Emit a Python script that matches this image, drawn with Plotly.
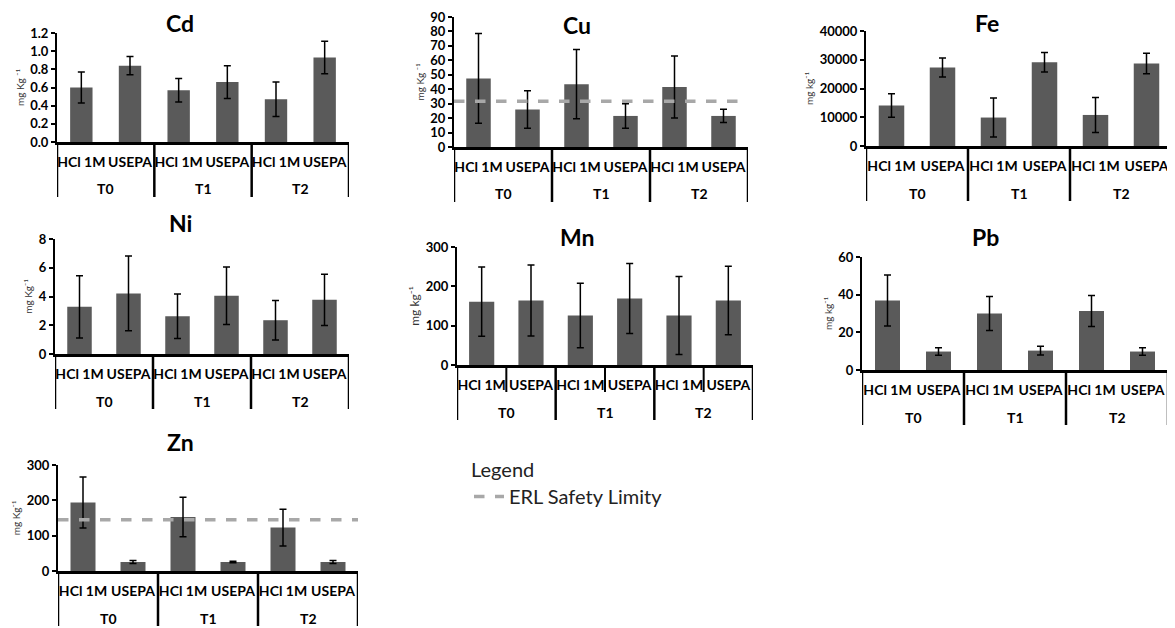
import plotly.graph_objects as go

# the page adds an 8 px body margin, so the figure is drawn 8 px smaller and shifted
OFF = 8
W, H = 1175 - OFF, 628 - OFF


def px_x(v):
    return (v - OFF) / W


def px_y(v):
    return 1 - (v - OFF) / H


groups = ["T0", "T1", "T2"]
methods = ["HCl 1M", "USEPA"]

cd_mean = [0.60, 0.84, 0.57, 0.66, 0.47, 0.93]
cd_err = [0.17, 0.10, 0.13, 0.18, 0.19, 0.18]
cu_mean = [47.5, 26.0, 43.5, 21.5, 41.5, 21.5]
cu_err = [31.0, 13.0, 24.0, 8.5, 21.5, 4.6]
fe_mean = [14100, 27300, 9900, 29100, 10800, 28700]
fe_err = [4100, 3300, 6800, 3400, 6100, 3600]
ni_mean = [3.28, 4.21, 2.62, 4.05, 2.35, 3.77]
ni_err = [2.17, 2.60, 1.55, 2.00, 1.38, 1.78]
mn_mean = [161, 164, 126, 169, 126, 164]
mn_err = [88, 90, 82, 89, 99, 87]
pb_mean = [36.9, 9.8, 30.0, 10.3, 31.3, 9.8]
pb_err = [13.5, 2.0, 9.0, 2.3, 8.2, 2.0]
zn_mean = [194, 25.5, 153, 25.5, 123, 25.5]
zn_err = [72, 4.5, 56, 2.0, 52, 4.0]

erl_cu = 31.6
erl_zn = 145

FONT = "Lato"

# panel: name, means, errs, y range, dtick, tickformat, ytitle, pixel box (x0,x1,ytop,yzero), title pos, bar width, erl, inner dividers
panels = [
    ("Cd", cd_mean, cd_err, [0, 1.2], 0.2, ".1f", "mg Kg ⁻¹", (57, 349, 33, 142), (180, 23), 0.46, None, False),
    ("Cu", cu_mean, cu_err, [0, 90], 10, "d", "mg Kg ⁻¹", (454, 748, 17, 147), (577, 25), 0.5, erl_cu, False),
    ("Fe", fe_mean, fe_err, [0, 40000], 10000, "d", "mg kg⁻¹", (866, 1172, 31, 146), (987, 23), 0.5, None, False),
    ("Ni", ni_mean, ni_err, [0, 8], 2, "d", "mg Kg⁻¹", (55, 349, 239, 354), (180, 223), 0.5, None, False),
    ("Mn", mn_mean, mn_err, [0, 300], 100, "d", "mg kg⁻¹", (457, 753, 247, 365), (577, 237), 0.51, None, True),
    ("Pb", pb_mean, pb_err, [0, 60], 20, "d", "mg kg⁻¹", (862, 1168, 257, 370), (985, 237), 0.49, None, False),
    ("Zn", zn_mean, zn_err, [0, 300], 100, "d", "mg Kg⁻¹", (58, 358, 465, 571), (180, 442), 0.5, erl_zn, False),
]

fig = go.Figure()
layout = dict(
    width=W, height=H,
    template="none",
    margin=dict(l=0, r=0, t=0, b=0, pad=0),
    paper_bgcolor="white", plot_bgcolor="white",
    font=dict(family=FONT, color="black"),
    showlegend=True,
    legend=dict(
        x=px_x(469), y=px_y(451), xanchor="left", yanchor="top",
        title=dict(text="Legend", font=dict(family=FONT, size=20, color="#222")),
        font=dict(family=FONT, size=20, color="#222"),
        bgcolor="rgba(0,0,0,0)", tracegroupgap=0, itemwidth=30,
    ),
)
shapes = []
annotations = []

cats = [m for g in groups for m in methods]
xpos = list(range(len(cats)))

for i, (name, mean, err, yr, dt, fmt, ytitle, box, tpos, bw, erl, inner) in enumerate(panels, start=1):
    xa = "x" if i == 1 else f"x{i}"
    ya = "y" if i == 1 else f"y{i}"
    x0, x1, ytop, yzero = box
    ph = yzero - ytop
    fig.add_trace(go.Bar(
        x=xpos, y=mean, width=bw,
        marker=dict(color="#5a5a5a", line=dict(width=0)),
        error_y=dict(type="data", array=err, color="black", thickness=1.5, width=3.5),
        xaxis=xa, yaxis=ya, showlegend=False, hoverinfo="skip",
    ))
    layout["xaxis" if i == 1 else f"xaxis{i}"] = dict(
        domain=[px_x(x0), px_x(x1)], anchor=ya, automargin=False,
        range=[-0.5, len(cats) - 0.5],
        tickvals=xpos, ticktext=cats,
        ticks="", showline=True, linecolor="black", linewidth=2.5,
        showgrid=False, zeroline=False,
        tickfont=dict(family=FONT, size=14, weight="bold", color="black"),
        ticklabelstandoff=5, fixedrange=True,
    )
    layout["yaxis" if i == 1 else f"yaxis{i}"] = dict(
        domain=[px_y(yzero), px_y(ytop)], anchor=xa, automargin=False,
        range=yr, dtick=dt, tickformat=fmt,
        ticks="outside", ticklen=4, tickcolor="black", tickwidth=1.5,
        showline=True, linecolor="black", linewidth=2,
        showgrid=False, zeroline=False,
        tickfont=dict(family=FONT, size=13, weight="bold", color="black"),
        title=dict(text=ytitle, font=dict(family=FONT, size=10 if name != "Mn" else 12, color="#333"), standoff=4),
        fixedrange=True,
    )
    dref = f"{ya} domain"
    depth = -55 / ph
    n_per = len(methods)
    for k in range(len(groups) + 1):
        xb = k * n_per - 0.5
        shapes.append(dict(type="line", xref=xa, yref=dref, x0=xb, x1=xb, y0=0, y1=depth,
                           line=dict(color="black", width=2.5)))
    if inner:
        for k in range(len(groups)):
            xb = k * n_per + 0.5
            shapes.append(dict(type="line", xref=xa, yref=dref, x0=xb, x1=xb, y0=0, y1=-27 / ph,
                               line=dict(color="black", width=2)))
    for k, g in enumerate(groups):
        annotations.append(dict(
            text=g, xref=xa, yref=dref, x=k * n_per + (n_per - 1) / 2, y=-47 / ph,
            showarrow=False, xanchor="center", yanchor="middle",
            font=dict(family=FONT, size=14, weight="bold", color="black"),
        ))
    annotations.append(dict(
        text=name, xref="paper", yref="paper", x=px_x(tpos[0]), y=px_y(tpos[1]),
        showarrow=False, xanchor="center", yanchor="middle",
        font=dict(family=FONT, size=23, weight="bold", color="black"),
    ))
    if erl is not None:
        shapes.append(dict(
            type="line", xref=f"{xa} domain", yref=ya, x0=0, x1=1, y0=erl, y1=erl,
            line=dict(color="#a8a8a8", width=3.5, dash="dash"),
            showlegend=(name == "Cu"), name="ERL Safety Limity", legendgroup="erl",
        ))

layout["shapes"] = shapes
layout["annotations"] = annotations
fig.update_layout(**layout)
fig.write_html("out.html")
